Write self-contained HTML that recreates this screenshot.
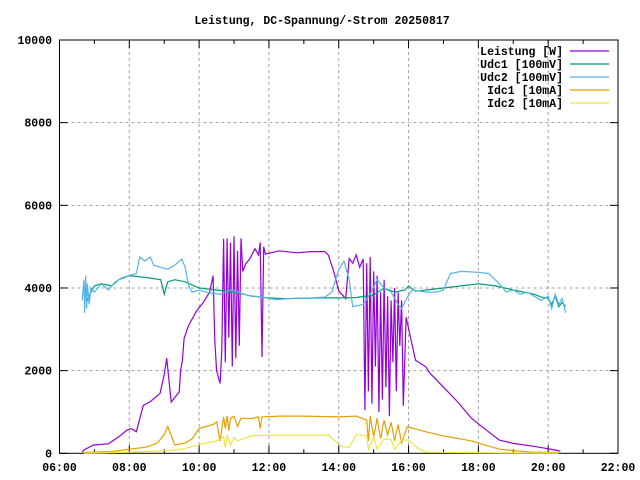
<!DOCTYPE html>
<html><head><meta charset="utf-8">
<style>
html,body{margin:0;padding:0;background:#fff;}
svg{display:block;}
text{font-family:"Liberation Mono","DejaVu Sans Mono",monospace;font-size:11.5px;font-weight:bold;fill:#000;}
</style></head>
<body>
<svg id="chart" width="640" height="480" viewBox="0 0 640 480">
  <text x="322" y="24" text-anchor="middle">Leistung, DC-Spannung/-Strom 20250817</text>
  <g id="grid"></g>
  <g id="axes"></g>
  <g id="series"></g>
  <g id="legend"></g>
</svg>
<script>
const xTickHours = [6,8,10,12,14,16,18,20,22];
const xTickLabels = ["06:00","08:00","10:00","12:00","14:00","16:00","18:00","20:00","22:00"];
const yTicks = [0,2000,4000,6000,8000,10000];

const leistung = [[6.65,30],[6.7,80],[6.97,200],[7.4,230],[7.7,400],[7.93,560],[8.05,600],[8.2,520],[8.4,1160],[8.6,1250],
[8.88,1450],[9.0,1900],[9.07,2300],[9.12,1900],[9.2,1240],[9.3,1350],[9.43,1480],[9.47,2000],[9.52,2250],[9.57,2780],
[9.7,3100],[9.93,3450],[10.12,3650],[10.3,3900],[10.4,4300],[10.45,2730],[10.5,2000],[10.6,1690],[10.65,2500],[10.7,5190],
[10.75,2200],[10.8,5200],[10.85,2800],[10.9,5100],[10.95,2100],[11.0,5250],[11.05,2300],[11.1,4900],[11.15,2600],[11.2,5200],
[11.25,4400],[11.33,4580],[11.45,4700],[11.6,4950],[11.7,4800],[11.75,5100],[11.8,2330],[11.85,5000],[11.9,4820],[12.3,4900],
[12.8,4850],[13.2,4880],[13.6,4880],[13.7,4800],[13.85,4420],[14.0,3930],[14.2,3740],[14.3,4710],[14.4,4600],[14.5,4800],
[14.6,4500],[14.7,4700],[14.75,1040],[14.8,4600],[14.85,1500],[14.9,4750],[14.95,1200],[15.0,4400],[15.05,2100],[15.1,4300],
[15.15,1000],[15.2,3900],[15.25,1300],[15.3,4200],[15.35,1600],[15.4,3800],[15.45,900],[15.5,3700],[15.55,2200],[15.6,4000],
[15.65,1500],[15.7,3900],[15.75,2600],[15.8,3700],[15.85,1150],[15.93,3290],[16.2,2250],[16.5,2090],[16.6,1950],[17.0,1600],
[17.4,1250],[17.8,850],[18.2,580],[18.6,320],[19.0,240],[19.66,160],[20.2,80],[20.35,50]];

const udc1 = [[6.7,4000],[6.8,3700],[6.9,3900],[7.0,4050],[7.2,4100],[7.5,4050],[7.7,4200],[8.0,4300],[8.5,4250],[8.9,4200],
[9.0,3850],[9.1,4150],[9.3,4200],[9.6,4150],[10.0,4000],[10.5,3950],[11.0,3900],[11.5,3800],[12.0,3760],[12.5,3740],
[13.0,3750],[13.5,3760],[14.0,3760],[14.5,3770],[15.0,3830],[15.3,4000],[15.6,3900],[15.9,3950],[16.0,4050],[16.2,3920],
[16.6,3960],[17.0,4000],[17.5,4050],[18.0,4100],[18.5,4050],[19.0,3950],[19.3,3900],[19.6,3850],[19.8,3780],[20.0,3750],
[20.1,3600],[20.2,3800],[20.3,3550],[20.4,3650],[20.5,3550]];

const udc2 = [[6.65,3700],[6.7,4200],[6.72,3400],[6.75,4300],[6.78,3500],[6.8,4100],[6.85,3600],[6.9,4000],[7.0,3900],[7.2,4100],
[7.4,3950],[7.6,4150],[7.8,4250],[8.0,4300],[8.2,4350],[8.3,4750],[8.45,4650],[8.6,4750],[8.7,4550],[8.9,4500],
[9.1,4450],[9.3,4550],[9.5,4700],[9.6,4500],[9.7,4050],[9.8,3900],[10.0,3950],[10.3,3880],[10.6,3850],[10.9,3950],
[11.1,3900],[11.4,3820],[11.8,3780],[12.2,3720],[12.7,3750],[13.2,3760],[13.6,3780],[13.8,3900],[14.0,4450],[14.15,4650],
[14.3,4200],[14.4,3550],[14.7,3600],[14.9,3850],[15.1,4200],[15.3,4000],[15.5,3900],[15.7,3600],[15.8,3500],[15.95,3750],
[16.1,3950],[16.5,3900],[16.8,3900],[17.0,3950],[17.2,4350],[17.5,4400],[18.0,4380],[18.3,4350],[18.6,4100],[18.8,3900],
[19.0,3950],[19.2,3850],[19.4,3900],[19.6,3800],[19.8,3700],[20.0,3800],[20.1,3500],[20.2,3850],[20.3,3600],[20.4,3750],[20.5,3400]];

const idc1 = [[6.7,20],[7.5,40],[8.0,100],[8.5,150],[8.8,250],[9.0,450],[9.1,650],[9.3,200],[9.6,250],[9.8,350],
[10.0,600],[10.4,700],[10.5,760],[10.6,300],[10.7,880],[10.75,600],[10.8,900],[10.85,550],[10.9,850],[11.0,900],
[11.1,650],[11.2,850],[11.5,840],[11.7,880],[11.75,600],[11.8,880],[12.3,900],[13.0,900],[14.0,880],[14.5,900],
[14.8,800],[14.85,300],[14.9,900],[15.0,400],[15.1,850],[15.2,350],[15.3,800],[15.4,450],[15.5,750],[15.6,300],
[15.7,700],[15.8,250],[15.96,640],[16.5,520],[17.0,420],[17.8,300],[18.6,100],[19.5,30],[20.3,20]];

const idc2 = [[6.7,0],[8.0,30],[9.0,60],[9.5,100],[10.15,240],[10.5,300],[10.7,400],[10.75,150],[10.8,420],[10.9,200],
[11.0,380],[11.1,300],[11.5,420],[12.0,440],[13.7,440],[13.9,300],[14.1,160],[14.3,150],[14.5,450],[14.8,430],
[14.85,100],[15.0,400],[15.1,100],[15.3,350],[15.5,330],[15.6,100],[15.8,320],[16.0,320],[16.3,100],[16.5,30],[17.8,15],[20.3,5]];

const seriesNames = ["Leistung [W]","Udc1 [100mV]","Udc2 [100mV]","Idc1 [10mA]","Idc2 [10mA]"];
const seriesColors = ["#9400d3","#009e73","#56b4e9","#e69f00","#f0e442"];
const seriesData = [leistung, udc1, udc2, idc1, idc2];

const L=59.5, R=618, T=40, B=453.3;
function xs(h){ return L + (h-6)*(R-L)/16; }
function ys(v){ return B - v*(B-T)/10000; }
const NS="http://www.w3.org/2000/svg";
function mk(tag, attrs, parent){ const e=document.createElementNS(NS,tag); for(const k in attrs) e.setAttribute(k,attrs[k]); parent.appendChild(e); return e; }

const grid=document.getElementById('grid'), axes=document.getElementById('axes'), ser=document.getElementById('series'), leg=document.getElementById('legend');

yTicks.forEach(v=>{
  const y=ys(v);
  if(v>0 && v<10000){
    const g=mk('line',{x1:L,x2:R,y1:y,y2:y,stroke:'#a0a0a0','stroke-width':1,'stroke-dasharray':'3,3'},grid);
    
    
  }
  const t1=mk('line',{x1:L,x2:L+8,y1:y,y2:y,stroke:'#000'},axes);
  
  
  const t2=mk('line',{x1:R-8,x2:R,y1:y,y2:y,stroke:'#000'},axes);
  
  
  const tx=mk('text',{x:52,y:y+4,'text-anchor':'end'},axes);
  tx.textContent=String(v);
  
  
});
for(let h=7; h<22; h+=2){
  const x=xs(h);
  const a=mk('line',{x1:x,x2:x,y1:B,y2:B-4,stroke:'#000'},axes);
  
  
  const b=mk('line',{x1:x,x2:x,y1:T,y2:T+4,stroke:'#000'},axes);
  
  
}
xTickHours.forEach((h,i)=>{
  const x=xs(h);
  if(h>6 && h<22){
    const g=mk('line',{x1:x,x2:x,y1:T,y2:B,stroke:'#a0a0a0','stroke-width':1,'stroke-dasharray':'3,3'},grid);
    
    
  }
  const a=mk('line',{x1:x,x2:x,y1:B,y2:B-8,stroke:'#000'},axes);
  
  
  const b=mk('line',{x1:x,x2:x,y1:T,y2:T+8,stroke:'#000'},axes);
  
  
  const tx=mk('text',{x:x,y:471,'text-anchor':'middle'},axes);
  tx.textContent=xTickLabels[i];
  
  
});
const frame=mk('rect',{x:L,y:T,width:R-L,height:B-T,fill:'none',stroke:'#000','stroke-width':1},axes);



seriesData.forEach((d,i)=>{
  const pts=d.map(p=>xs(p[0]).toFixed(1)+','+ys(p[1]).toFixed(1)).join(' ');
  const pl=mk('polyline',{points:pts,fill:'none',stroke:seriesColors[i],'stroke-width':1.2,'stroke-linejoin':'miter'},ser);
  
  
});

seriesNames.forEach((n,i)=>{
  const y=51+i*13;
  const tx=mk('text',{x:563,y:y+4,'text-anchor':'end'},leg);
  tx.textContent=n;
  
  
  const ln=mk('line',{x1:570,x2:609,y1:y,y2:y,stroke:seriesColors[i],'stroke-width':1.2},leg);
  
  
});
</script>
</body></html>
